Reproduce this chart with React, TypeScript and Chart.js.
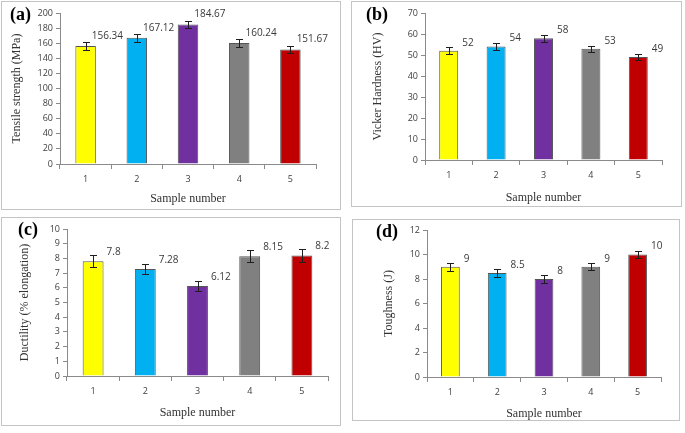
import React, { useEffect, useRef } from 'react';
import { Chart, registerables } from 'chart.js';

Chart.register(...registerables);

// ---------- data ----------
const samples = ['1', '2', '3', '4', '5'];
const barColors = ['#FFFF00', '#00B0F0', '#7030A0', '#808080', '#C00000'];

const tensile = [156.34, 167.12, 184.67, 160.24, 151.67];
const tensileErr = [5.5, 5.5, 5, 5.5, 5];

const hardness = [52, 54, 58, 53, 49];
const hardnessErr = [1.6, 1.5, 1.6, 1.4, 1.5];

const ductility = [7.8, 7.28, 6.12, 8.15, 8.2];
const ductilityErr = [0.4, 0.37, 0.37, 0.4, 0.42];

const toughness = [9, 8.5, 8, 9, 10];
const toughnessErr = [0.32, 0.3, 0.32, 0.3, 0.32];

// ---------- layout / style ----------
type PanelCfg = {
  letter: string;
  yTitle: string;
  values: number[];
  errors: number[];
  max: number;
  step: number;
  box: { x: number; y: number; w: number; h: number };
  area: { l: number; r: number; t: number; b: number };
  yTitlePad: number;
  xTitlePad: number;
  labelDx: number;
  labelDy: number;
  letterPos: { x: number; y: number };
};

const panels: PanelCfg[] = [
  {
    letter: '(a)', yTitle: 'Tensile strength (MPa)', values: tensile, errors: tensileErr, max: 200, step: 20,
    box: { x: 2, y: 2, w: 340, h: 209 }, area: { l: 60, r: 316, t: 13, b: 164 },
    yTitlePad: 8, xTitlePad: 5, labelDx: -4, labelDy: -10, letterPos: { x: 10, y: 15 },
  },
  {
    letter: '(b)', yTitle: 'Vicker Hardness (HV)', values: hardness, errors: hardnessErr, max: 70, step: 10,
    box: { x: 352, y: 2, w: 331, h: 206 }, area: { l: 425, r: 662, t: 13, b: 160 },
    yTitlePad: 19, xTitlePad: 3, labelDx: 4, labelDy: -8, letterPos: { x: 366, y: 15 },
  },
  {
    letter: '(c)', yTitle: 'Ductility (% elongation)', values: ductility, errors: ductilityErr, max: 10, step: 1,
    box: { x: 2, y: 218, w: 340, h: 209 }, area: { l: 67, r: 328, t: 229, b: 376 },
    yTitlePad: 16, xTitlePad: 7, labelDx: 3, labelDy: -9, letterPos: { x: 18, y: 230 },
  },
  {
    letter: '(d)', yTitle: 'Toughness (J)', values: toughness, errors: toughnessErr, max: 12, step: 2,
    box: { x: 353, y: 220, w: 328, h: 202 }, area: { l: 427, r: 661, t: 230, b: 377 },
    yTitlePad: 29, xTitlePad: 1, labelDx: 4, labelDy: -8, letterPos: { x: 376, y: 232 },
  },
];

const overlayPlugin = {
  id: 'overlay',
  afterDatasetsDraw(chart: any, _args: any, opts: any) {
    const { ctx } = chart;
    const meta = chart.getDatasetMeta(0);
    const ys = chart.scales.y;
    ctx.save();
    meta.data.forEach((el: any, i: number) => {
      const v = opts.values[i];
      const e = opts.errors[i];
      const x = Math.round(el.x) + 0.5;
      const y1 = Math.round(ys.getPixelForValue(v + e)) + 0.5;
      const y2 = Math.round(ys.getPixelForValue(v - e)) + 0.5;
      ctx.strokeStyle = '#1e1e1e';
      ctx.lineWidth = 1;
      ctx.beginPath();
      ctx.moveTo(x, y1);
      ctx.lineTo(x, y2);
      ctx.moveTo(x - 3.5, y1);
      ctx.lineTo(x + 3.5, y1);
      ctx.moveTo(x - 3.5, y2);
      ctx.lineTo(x + 3.5, y2);
      ctx.stroke();

      ctx.fillStyle = '#3a3a3a';
      ctx.font = '10px "Open Sans"';
      ctx.textAlign = 'left';
      ctx.textBaseline = 'middle';
      ctx.fillText(String(v), el.x + el.width / 2 + opts.labelDx, el.y + opts.labelDy);
    });
    ctx.fillStyle = '#000';
    ctx.font = 'bold 18px "Liberation Serif"';
    ctx.textAlign = 'left';
    ctx.textBaseline = 'middle';
    ctx.fillText(opts.letter, opts.letterX, opts.letterY);
    ctx.restore();
  },
};

function Panel({ cfg }: { cfg: PanelCfg }) {
  const ref = useRef<HTMLCanvasElement | null>(null);
  useEffect(() => {
    if (!ref.current) return;
    const { box, area } = cfg;
    const yWidth = area.l - box.x;
    const xHeight = box.y + box.h - area.b;
    const chart = new Chart(ref.current, {
      type: 'bar',
      data: {
        labels: samples,
        datasets: [
          {
            data: cfg.values,
            backgroundColor: barColors,
            borderColor: '#555555',
            borderWidth: 1,
            categoryPercentage: 1,
            barPercentage: 0.4,
          },
        ],
      },
      options: {
        responsive: false,
        animation: false,
        devicePixelRatio: 1,
        layout: {
          padding: { left: 0, top: area.t - box.y, right: box.x + box.w - area.r, bottom: 0 },
        },
        plugins: {
          legend: { display: false },
          tooltip: { enabled: false },
          overlay: {
            values: cfg.values,
            errors: cfg.errors,
            labelDx: cfg.labelDx,
            labelDy: cfg.labelDy,
            letter: cfg.letter,
            letterX: cfg.letterPos.x - box.x,
            letterY: cfg.letterPos.y - box.y,
          },
        } as any,
        scales: {
          x: {
            type: 'category',
            offset: true,
            grid: { offset: true, drawOnChartArea: false, drawTicks: true, tickLength: 5, color: '#8a8a8a' },
            border: { color: '#8a8a8a', width: 1 },
            ticks: { color: '#404040', font: { family: 'Open Sans', size: 9 }, padding: 5, maxRotation: 0 },
            title: {
              display: true,
              text: 'Sample number',
              color: '#333333',
              font: { family: 'Liberation Serif', size: 12 },
              padding: { top: 0, bottom: cfg.xTitlePad },
            },
            afterFit: (s: any) => { s.height = xHeight; },
          },
          y: {
            min: 0,
            max: cfg.max,
            grid: { drawOnChartArea: false, drawTicks: true, tickLength: 4, color: '#8a8a8a' },
            border: { color: '#8a8a8a', width: 1 },
            ticks: { stepSize: cfg.step, color: '#404040', font: { family: 'Open Sans', size: 9 }, padding: 3 },
            title: {
              display: true,
              text: cfg.yTitle,
              color: '#333333',
              font: { family: 'Liberation Serif', size: 12 },
              padding: { top: cfg.yTitlePad, bottom: 0 },
            },
            afterFit: (s: any) => { s.width = yWidth; },
          },
        },
      } as any,
      plugins: [overlayPlugin],
    });
    return () => chart.destroy();
  }, [cfg]);

  const { box } = cfg;
  return (
    <>
      <div
        style={{
          position: 'absolute',
          left: box.x - 1,
          top: box.y - 1,
          width: box.w,
          height: box.h,
          border: '1.5px solid #c4c4c4',
          boxSizing: 'border-box',
        }}
      />
      <canvas
        ref={ref}
        width={box.w}
        height={box.h}
        style={{ position: 'absolute', left: box.x, top: box.y, width: box.w, height: box.h }}
      />
    </>
  );
}

export default function App() {
  return (
    <div style={{ position: 'absolute', left: 0, top: 0, width: 685, height: 433, background: '#fff' }}>
      {panels.map((p) => (
        <Panel key={p.letter} cfg={p} />
      ))}
    </div>
  );
}
